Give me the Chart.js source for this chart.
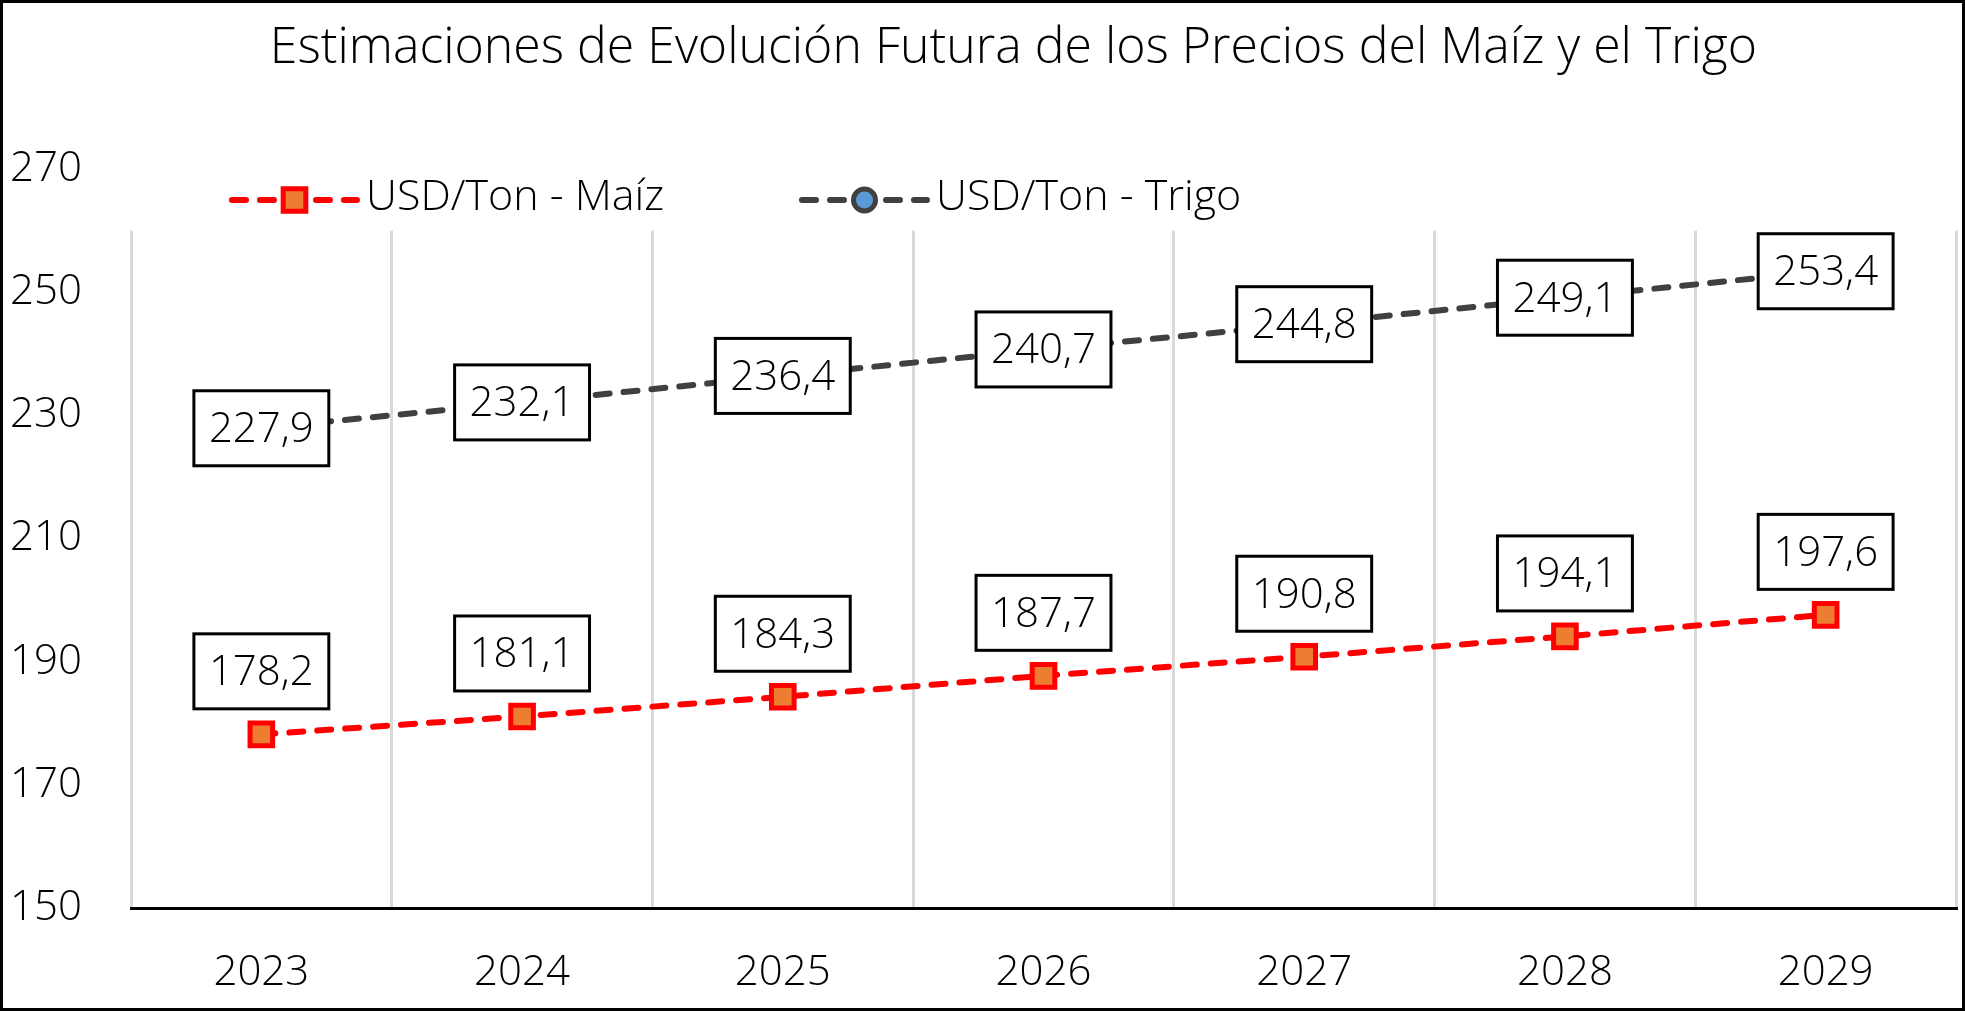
<!DOCTYPE html>
<html>
<head>
<meta charset="utf-8">
<script src="https://cdn.jsdelivr.net/npm/chart.js@4.4.0/dist/chart.umd.min.js"></script>
<style>
  body { margin: 0; background: #fff; }
  #wrap { position: absolute; left: 0; top: 0; width: 1965px; height: 1011px; border: 3px solid #000; box-sizing: border-box; background: #fff; }
  #chart { display: block; }
</style>
</head>
<body>
<div id="wrap"><canvas id="chart" width="1959" height="1005"></canvas></div>
<script>
const chartTitle = 'Estimaciones de Evolución Futura de los Precios del Maíz y el Trigo';
const years = ['2023', '2024', '2025', '2026', '2027', '2028', '2029'];
const maizPrices = [178.2, 181.1, 184.3, 187.7, 190.8, 194.1, 197.6];
const trigoPrices = [227.9, 232.1, 236.4, 240.7, 244.8, 249.1, 253.4];
const seriesNames = ['USD/Ton - Maíz', 'USD/Ton - Trigo'];
const yTicks = [150, 170, 190, 210, 230, 250, 270];

const FONT = "'Open Sans', 'DejaVu Sans', sans-serif";
Chart.defaults.font.family = FONT;
Chart.defaults.font.weight = '300';
Chart.defaults.color = '#000';

// comma decimals like the original sheet
const fmt = v => v.toFixed(1).replace('.', ',');

// legend start x for each series (legend sits inside the plot, like Excel)
const legendX = [229, 799];

const overlay = {
  id: 'overlay',
  beforeDatasetsDraw(chart) {
    // white band behind the legend hides the top of the gridlines
    const { ctx, chartArea: a, scales } = chart;
    const bandBottom = scales.y.getPixelForValue(yTicks[yTicks.length - 1] - 10);
    ctx.save();
    ctx.fillStyle = '#fff';
    ctx.fillRect(a.left - 3, a.top - 2, a.right - a.left + 6, bandBottom - a.top + 2);
    ctx.restore();
  },
  afterDatasetsDraw(chart) {
    const { ctx, chartArea: a } = chart;
    ctx.save();

    // title (Excel centres it a bit right of the canvas middle)
    ctx.fillStyle = '#000';
    ctx.font = '300 50px ' + FONT;
    ctx.textAlign = 'center';
    ctx.textBaseline = 'middle';
    ctx.fillText(chartTitle, chart.width / 2 + 31, 46);

    // legend
    const ly = a.top + 31;
    chart.data.datasets.forEach((ds, i) => {
      const x0 = legendX[i], len = 125;
      ctx.strokeStyle = ds.borderColor;
      ctx.lineWidth = ds.borderWidth;
      ctx.lineCap = 'round';
      ctx.setLineDash(ds.borderDash);
      ctx.beginPath();
      ctx.moveTo(x0, ly);
      ctx.lineTo(x0 + len, ly);
      ctx.stroke();
      ctx.setLineDash([]);
      drawMarker(ctx, ds, x0 + len / 2, ly);
      ctx.fillStyle = '#000';
      ctx.font = '300 43px ' + FONT;
      ctx.textAlign = 'left';
      ctx.textBaseline = 'middle';
      ctx.fillText(ds.label, x0 + len + 9, ly - 2);
    });

    // boxed data labels
    ctx.font = '300 42px ' + FONT;
    chart.data.datasets.forEach((ds, i) => {
      const meta = chart.getDatasetMeta(i);
      meta.data.forEach((pt, j) => {
        const txt = fmt(ds.data[j]);
        const w = ctx.measureText(txt).width + 30, h = 75;
        const cy = pt.y - ds.labelLift;
        ctx.fillStyle = '#fff';
        ctx.fillRect(pt.x - w / 2, cy - h / 2, w, h);
        ctx.lineWidth = 3;
        ctx.strokeStyle = '#000';
        ctx.strokeRect(pt.x - w / 2, cy - h / 2, w, h);
        ctx.fillStyle = '#000';
        ctx.textAlign = 'center';
        ctx.textBaseline = 'middle';
        ctx.fillText(txt, pt.x, cy + 2);
      });
    });
    ctx.restore();
  }
};

function drawMarker(ctx, ds, x, y) {
  const r = ds.pointRadius;
  ctx.fillStyle = ds.pointBackgroundColor;
  ctx.strokeStyle = ds.pointBorderColor;
  ctx.lineWidth = ds.pointBorderWidth;
  ctx.beginPath();
  if (ds.pointStyle === 'rect') {
    const s = Math.SQRT1_2 * r;
    ctx.rect(x - s, y - s, 2 * s, 2 * s);
  } else {
    ctx.arc(x, y, r, 0, Math.PI * 2);
  }
  ctx.fill();
  ctx.stroke();
}

new Chart(document.getElementById('chart').getContext('2d'), {
  type: 'line',
  data: {
    labels: years,
    datasets: [{
      label: seriesNames[0],
      data: maizPrices,
      borderColor: '#FF0000',
      borderWidth: 6,
      borderDash: [14, 14],
      borderCapStyle: 'round',
      tension: 0,
      pointStyle: 'rect',
      pointRadius: 16,
      pointBorderWidth: 5,
      pointBackgroundColor: '#ED7D31',
      pointBorderColor: '#FF0000',
      labelLift: 63,
    }, {
      label: seriesNames[1],
      data: trigoPrices,
      borderColor: '#404040',
      borderWidth: 6,
      borderDash: [14, 14],
      borderCapStyle: 'round',
      tension: 0,
      pointStyle: 'circle',
      pointRadius: 11,
      pointBorderWidth: 5,
      pointBackgroundColor: '#5B9BD5',
      pointBorderColor: '#404040',
      labelLift: 0,
    }],
  },
  options: {
    responsive: false,
    animation: false,
    devicePixelRatio: 1,
    layout: { autoPadding: false, padding: { left: 0, right: 6, top: 166, bottom: 13 } },
    plugins: {
      legend: { display: false },
      tooltip: { enabled: false },
      title: { display: false },
    },
    scales: {
      x: {
        offset: true,
        grid: { offset: true, color: '#D9D9D9', lineWidth: 3, drawTicks: false },
        border: { color: '#000', width: 3 },
        ticks: { padding: 40, maxRotation: 0, font: { size: 42 } },
        afterFit: s => { s.height = 87; s.paddingLeft = 0; s.paddingRight = 0; },
      },
      y: {
        min: yTicks[0],
        max: yTicks[yTicks.length - 1],
        grid: { display: false, drawTicks: false },
        border: { display: false },
        ticks: { stepSize: yTicks[1] - yTicks[0], padding: 49, font: { size: 42 } },
        afterFit: s => { s.width = 128; },
      },
    },
  },
  plugins: [overlay],
});
</script>
</body>
</html>
